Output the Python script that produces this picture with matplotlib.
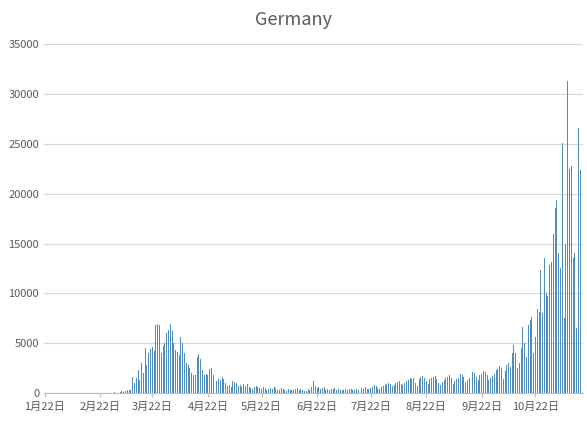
import matplotlib
matplotlib.use("Agg")
import matplotlib.pyplot as plt
import numpy as np
import datetime as dt

plt.rcParams['font.family'] = ['Noto Sans CJK SC', 'DejaVu Sans']

jan = [0,0,0,0,0,1,3,0,0,1]
feb = [3,1,2,0,1,3,0,0,1,0,2,0,0,0,0,0,0,0,0,0,0,0,0,0,2,10,20,30,50]
mar = [60,30,40,120,180,130,200,270,280,350,
       1600,1000,1500,2300,1300,3000,2000,4500,2800,4000,
       4400,4600,4200,6800,6900,6800,4000,4700,5000,6000,6300]
apr = [6900,6200,5000,4300,4100,3800,5600,5000,4000,3000,
       2800,2500,2000,1800,1800,3600,3900,3400,2300,1800,
       1900,1800,2400,2500,1800,1500,1200,1400,1300,1600]
may = [1400,1000,700,800,600,1200,1100,1000,700,800,
       600,900,700,900,600,500,400,600,700,600,
       500,400,600,500,300,400,500,400,600,500,300]
jun = [300,500,400,300,200,400,300,350,300,400,
       500,300,400,300,250,200,400,300,600,1200,
       700,500,600,400,500,600,300,400,300,400]
jul = [400,500,300,400,350,300,350,400,300,400,
       450,300,350,400,300,450,500,400,600,400,
       450,500,600,800,700,500,400,600,700,800,900]
aug = [1000,900,700,800,1000,1100,1200,900,800,1000,
       1200,1300,1500,1400,1500,1000,700,1400,1600,1700,
       1500,1200,900,1400,1500,1600,1700,1400,1000,800,1100]
sep = [1300,1500,1600,1800,1500,900,1200,1400,1500,1900,
       1800,1600,1100,1300,1500,1900,2100,2000,1600,1300,
       1800,1900,2200,2100,1800,1300,1500,1700,1900,2300]
octnov = [2400,2700,2500,1400,2200,2800,3000,2600,4000,4800,
          4000,2500,3000,4500,6600,5000,3600,6800,7300,7600,
          4000,5600,8400,8100,12300,8000,13500,10000,9700,12800,
          13100,16000,18600,19400,14000,12500,25100,7500,15000,31300,
          22500,22800,13500,14000,6500,26600,22400,24700]

values = jan + feb + mar + apr + may + jun + jul + aug + sep + octnov
start = dt.date(2020, 1, 22)
dates = [start + dt.timedelta(days=i) for i in range(len(values))]
tick_idx = [i for i, d in enumerate(dates) if d.day == 22]
tick_labels = [f"{dates[i].month}月22日" for i in tick_idx]

fig = plt.figure(figsize=(5.87, 4.21), dpi=100)
ax = fig.add_axes([0.075, 0.0665, 0.918, 0.8285])
x = np.arange(len(values))
ax.bar(x, values, width=0.55, color='#4f8dbd', zorder=3)
ax.set_xlim(-0.5, len(values) - 0.5)
ax.set_ylim(0, 35000)
ax.set_yticks(range(0, 35001, 5000))
ax.yaxis.grid(True, color='#d9d9d9', linewidth=0.9, zorder=0)
ax.set_xticks(tick_idx)
ax.set_xticklabels(tick_labels)
ax.tick_params(axis='both', labelsize=8, colors='#595959', length=0)
ax.tick_params(axis='x', length=3, color='#bfbfbf')
for s in ['top', 'right', 'left']:
    ax.spines[s].set_visible(False)
ax.spines['bottom'].set_color('#bfbfbf')
fig.suptitle('Germany', y=0.975, fontsize=13, color='#595959')
fig.savefig('out.png', dpi=100)
